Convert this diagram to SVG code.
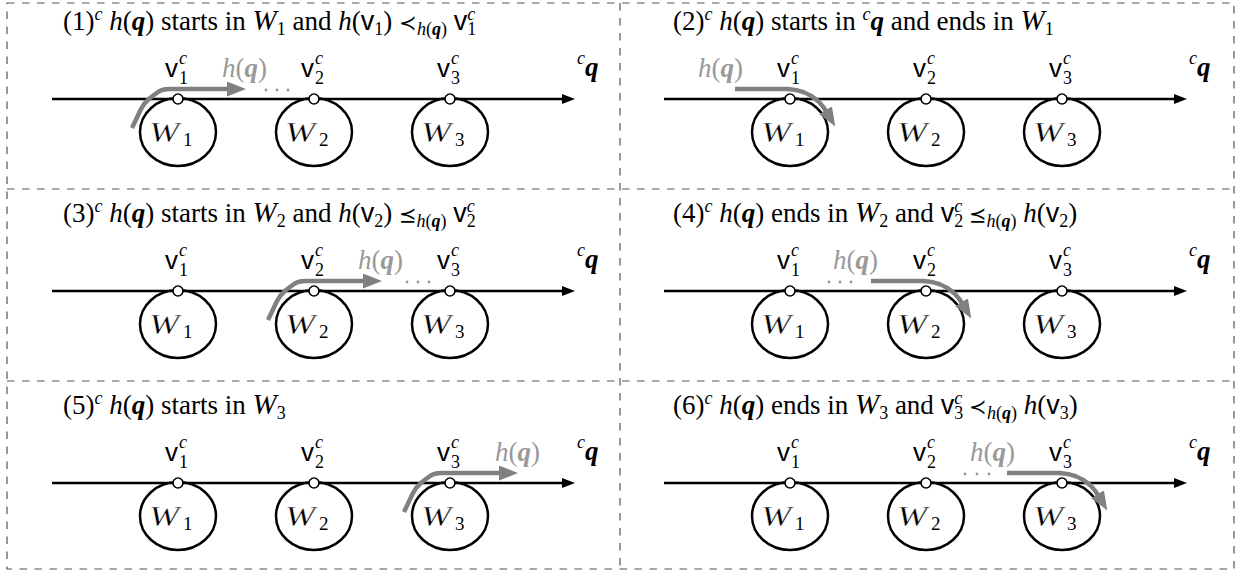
<svg xmlns="http://www.w3.org/2000/svg" width="1241" height="577" viewBox="0 0 1241 577">
<style>
.bg{fill:#fff}
.frame{fill:none;stroke:#555;stroke-width:1.2;stroke-dasharray:7.5 7.5}
.t{font-family:"Liberation Serif","Times New Roman",serif;font-size:27px;fill:#000}
.i{font-style:italic}
.bi{font-style:italic;font-weight:bold}
.sf{font-family:"Liberation Sans",sans-serif;font-style:normal;font-weight:normal}
.sub{font-size:18px}
.sup{font-size:18px;font-style:italic}
.cal{font-style:italic;font-size:29px}
.rel{font-family:"DejaVu Serif",serif;font-size:21px}
.rel2{font-family:"DejaVu Sans",sans-serif;font-size:21px}
.gl{fill:#999}
.dot3{fill:#999}
.region{fill:none;stroke:#000;stroke-width:2.5}
.node{fill:#fff;stroke:#000;stroke-width:1.6}
.axis{fill:none;stroke:#000;stroke-width:2.5;marker-end:url(#ah)}
.hq{fill:none;stroke:#808080;stroke-width:4.5;stroke-linejoin:round;marker-end:url(#gh)}
.vl{font-family:"Liberation Sans",sans-serif;font-size:26px}
.vs{font-family:"Liberation Serif",serif;font-size:18px}
.vc{font-family:"Liberation Serif",serif;font-size:18px;font-style:italic}
.calw{font-family:"Liberation Serif",serif;font-size:29px;font-style:italic;fill:#000;stroke:#fff;stroke-width:0.35}
.wsub{font-family:"Liberation Serif",serif;font-size:19px}
</style>
<defs>
<marker id="ah" markerUnits="userSpaceOnUse" markerWidth="13" markerHeight="10" refX="0" refY="5" orient="auto"><path d="M0,0 L13,5 L0,10 z" fill="#000"/></marker>
<marker id="gh" markerUnits="userSpaceOnUse" markerWidth="19" markerHeight="15" refX="1" refY="7.5" orient="auto"><path d="M0,0 L19,7.5 L0,15 z" fill="#808080"/></marker>
</defs>
<rect class="bg" x="0" y="0" width="1241" height="577"/>
<g id="frames">
<rect class="frame" x="7" y="3" width="1227" height="566"/>
<line class="frame" x1="620" y1="3" x2="620" y2="569"/>
<line class="frame" x1="7" y1="189" x2="1234" y2="189"/>
<line class="frame" x1="7" y1="381" x2="1234" y2="381"/>
</g>

<!-- Panel 1 -->
<g id="panel1">
<text class="t" x="63" y="30">(1)<tspan class="sup" dy="-10">c</tspan><tspan dy="10"> </tspan><tspan class="i">h</tspan>(<tspan class="bi">q</tspan>) starts in <tspan class="cal">W</tspan><tspan class="sub" dy="5">1</tspan><tspan dy="-5"> and </tspan><tspan class="i">h</tspan>(<tspan class="sf">v</tspan><tspan class="sub" dy="5">1</tspan><tspan dy="-5">) </tspan><tspan class="rel">≺</tspan><tspan class="sub" dy="5"><tspan class="i">h</tspan>(<tspan class="bi">q</tspan>)</tspan><tspan dy="-5"> </tspan><tspan class="sf">v</tspan><tspan class="sub" dy="5">1</tspan><tspan class="sup" dx="-9" dy="-15">c</tspan></text>
<g id="p1-n1"><ellipse class="region" cx="178" cy="132" rx="38" ry="34"/><circle class="node" cx="178" cy="99" r="5"/><text class="calw" transform="translate(149,142) scale(1.25,1)">W</text><text class="wsub" x="183" y="146">1</text><text class="vl" x="165" y="77">v</text><text class="vs" x="179" y="84">1</text><text class="vc" x="179" y="64">c</text></g>
<g id="p1-n2"><ellipse class="region" cx="314" cy="132" rx="38" ry="34"/><circle class="node" cx="314" cy="99" r="5"/><text class="calw" transform="translate(285,142) scale(1.25,1)">W</text><text class="wsub" x="319" y="146">2</text><text class="vl" x="301" y="77">v</text><text class="vs" x="315" y="84">2</text><text class="vc" x="315" y="64">c</text></g>
<g id="p1-n3"><ellipse class="region" cx="450" cy="132" rx="38" ry="34"/><circle class="node" cx="450" cy="99" r="5"/><text class="calw" transform="translate(421,142) scale(1.25,1)">W</text><text class="wsub" x="455" y="146">3</text><text class="vl" x="437" y="77">v</text><text class="vs" x="451" y="84">3</text><text class="vc" x="451" y="64">c</text></g>
<text class="t" x="577" y="76"><tspan class="sup" dy="-12">c</tspan><tspan class="bi" dy="12">q</tspan></text>
<g id="p1-connectors">
<path class="axis" d="M52,99 H173 M183,99 H309 M319,99 H445 M455,99 H562"/>
<path class="hq" d="M132,128 L141,109 Q144,103 150,98 L158,92 Q162,89 170,89 L228,89"/>
<text class="t gl" x="222" y="77"><tspan class="i">h</tspan>(<tspan class="bi">q</tspan>)</text>
<circle class="dot3" cx="266" cy="90" r="1.4"/><circle class="dot3" cx="277" cy="90" r="1.4"/><circle class="dot3" cx="288" cy="90" r="1.4"/>
</g>
</g>

<!-- Panel 2 -->
<g id="panel2" transform="translate(612,0)">
<text class="t" x="61" y="30">(2)<tspan class="sup" dy="-10">c</tspan><tspan dy="10"> </tspan><tspan class="i">h</tspan>(<tspan class="bi">q</tspan>) starts in <tspan class="sup" dy="-10">c</tspan><tspan class="bi" dy="10">q</tspan> and ends in <tspan class="cal">W</tspan><tspan class="sub" dy="5">1</tspan></text>
<g id="p2-n1"><ellipse class="region" cx="178" cy="132" rx="38" ry="34"/><circle class="node" cx="178" cy="99" r="5"/><text class="calw" transform="translate(149,142) scale(1.25,1)">W</text><text class="wsub" x="183" y="146">1</text><text class="vl" x="165" y="77">v</text><text class="vs" x="179" y="84">1</text><text class="vc" x="179" y="64">c</text></g>
<g id="p2-n2"><ellipse class="region" cx="314" cy="132" rx="38" ry="34"/><circle class="node" cx="314" cy="99" r="5"/><text class="calw" transform="translate(285,142) scale(1.25,1)">W</text><text class="wsub" x="319" y="146">2</text><text class="vl" x="301" y="77">v</text><text class="vs" x="315" y="84">2</text><text class="vc" x="315" y="64">c</text></g>
<g id="p2-n3"><ellipse class="region" cx="450" cy="132" rx="38" ry="34"/><circle class="node" cx="450" cy="99" r="5"/><text class="calw" transform="translate(421,142) scale(1.25,1)">W</text><text class="wsub" x="455" y="146">3</text><text class="vl" x="437" y="77">v</text><text class="vs" x="451" y="84">3</text><text class="vc" x="451" y="64">c</text></g>
<text class="t" x="577" y="76"><tspan class="sup" dy="-12">c</tspan><tspan class="bi" dy="12">q</tspan></text>
<g id="p2-connectors">
<path class="axis" d="M52,99 H173 M183,99 H309 M319,99 H445 M455,99 H562"/>
<path class="hq" d="M123,89 L176,89 Q194,90 206,101 Q211,106 214,111"/>
<text class="t gl" x="86" y="77"><tspan class="i">h</tspan>(<tspan class="bi">q</tspan>)</text>
</g>
</g>

<!-- Panel 3 -->
<g id="panel3" transform="translate(0,192)">
<text class="t" x="63" y="30">(3)<tspan class="sup" dy="-10">c</tspan><tspan dy="10"> </tspan><tspan class="i">h</tspan>(<tspan class="bi">q</tspan>) starts in <tspan class="cal">W</tspan><tspan class="sub" dy="5">2</tspan><tspan dy="-5"> and </tspan><tspan class="i">h</tspan>(<tspan class="sf">v</tspan><tspan class="sub" dy="5">2</tspan><tspan dy="-5">) </tspan><tspan class="rel2">⪯</tspan><tspan class="sub" dy="5"><tspan class="i">h</tspan>(<tspan class="bi">q</tspan>)</tspan><tspan dy="-5"> </tspan><tspan class="sf">v</tspan><tspan class="sub" dy="5">2</tspan><tspan class="sup" dx="-9" dy="-15">c</tspan></text>
<g id="p3-n1"><ellipse class="region" cx="178" cy="132" rx="38" ry="34"/><circle class="node" cx="178" cy="99" r="5"/><text class="calw" transform="translate(149,142) scale(1.25,1)">W</text><text class="wsub" x="183" y="146">1</text><text class="vl" x="165" y="77">v</text><text class="vs" x="179" y="84">1</text><text class="vc" x="179" y="64">c</text></g>
<g id="p3-n2"><ellipse class="region" cx="314" cy="132" rx="38" ry="34"/><circle class="node" cx="314" cy="99" r="5"/><text class="calw" transform="translate(285,142) scale(1.25,1)">W</text><text class="wsub" x="319" y="146">2</text><text class="vl" x="301" y="77">v</text><text class="vs" x="315" y="84">2</text><text class="vc" x="315" y="64">c</text></g>
<g id="p3-n3"><ellipse class="region" cx="450" cy="132" rx="38" ry="34"/><circle class="node" cx="450" cy="99" r="5"/><text class="calw" transform="translate(421,142) scale(1.25,1)">W</text><text class="wsub" x="455" y="146">3</text><text class="vl" x="437" y="77">v</text><text class="vs" x="451" y="84">3</text><text class="vc" x="451" y="64">c</text></g>
<text class="t" x="577" y="76"><tspan class="sup" dy="-12">c</tspan><tspan class="bi" dy="12">q</tspan></text>
<g id="p3-connectors">
<path class="axis" d="M52,99 H173 M183,99 H309 M319,99 H445 M455,99 H562"/>
<path class="hq" d="M268,128 L277,109 Q280,103 286,98 L294,92 Q298,89 306,89 L364,89"/>
<text class="t gl" x="358" y="77"><tspan class="i">h</tspan>(<tspan class="bi">q</tspan>)</text>
<circle class="dot3" cx="407" cy="90" r="1.4"/><circle class="dot3" cx="418" cy="90" r="1.4"/><circle class="dot3" cx="429" cy="90" r="1.4"/>
</g>
</g>

<!-- Panel 4 -->
<g id="panel4" transform="translate(612,192)">
<text class="t" x="61" y="30">(4)<tspan class="sup" dy="-10">c</tspan><tspan dy="10"> </tspan><tspan class="i">h</tspan>(<tspan class="bi">q</tspan>) ends in <tspan class="cal">W</tspan><tspan class="sub" dy="5">2</tspan><tspan dy="-5"> and </tspan><tspan class="sf">v</tspan><tspan class="sub" dy="5">2</tspan><tspan class="sup" dx="-9" dy="-15">c</tspan><tspan dy="10"> </tspan><tspan class="rel2">⪯</tspan><tspan class="sub" dy="5"><tspan class="i">h</tspan>(<tspan class="bi">q</tspan>)</tspan><tspan dy="-5"> </tspan><tspan class="i">h</tspan>(<tspan class="sf">v</tspan><tspan class="sub" dy="5">2</tspan><tspan dy="-5">)</tspan></text>
<g id="p4-n1"><ellipse class="region" cx="178" cy="132" rx="38" ry="34"/><circle class="node" cx="178" cy="99" r="5"/><text class="calw" transform="translate(149,142) scale(1.25,1)">W</text><text class="wsub" x="183" y="146">1</text><text class="vl" x="165" y="77">v</text><text class="vs" x="179" y="84">1</text><text class="vc" x="179" y="64">c</text></g>
<g id="p4-n2"><ellipse class="region" cx="314" cy="132" rx="38" ry="34"/><circle class="node" cx="314" cy="99" r="5"/><text class="calw" transform="translate(285,142) scale(1.25,1)">W</text><text class="wsub" x="319" y="146">2</text><text class="vl" x="301" y="77">v</text><text class="vs" x="315" y="84">2</text><text class="vc" x="315" y="64">c</text></g>
<g id="p4-n3"><ellipse class="region" cx="450" cy="132" rx="38" ry="34"/><circle class="node" cx="450" cy="99" r="5"/><text class="calw" transform="translate(421,142) scale(1.25,1)">W</text><text class="wsub" x="455" y="146">3</text><text class="vl" x="437" y="77">v</text><text class="vs" x="451" y="84">3</text><text class="vc" x="451" y="64">c</text></g>
<text class="t" x="577" y="76"><tspan class="sup" dy="-12">c</tspan><tspan class="bi" dy="12">q</tspan></text>
<g id="p4-connectors">
<path class="axis" d="M52,99 H173 M183,99 H309 M319,99 H445 M455,99 H562"/>
<path class="hq" d="M259,89 L312,89 Q330,90 342,101 Q347,106 350,111"/>
<text class="t gl" x="221" y="77"><tspan class="i">h</tspan>(<tspan class="bi">q</tspan>)</text>
<circle class="dot3" cx="217" cy="90" r="1.4"/><circle class="dot3" cx="228" cy="90" r="1.4"/><circle class="dot3" cx="239" cy="90" r="1.4"/>
</g>
</g>

<!-- Panel 5 -->
<g id="panel5" transform="translate(0,384)">
<text class="t" x="63" y="30">(5)<tspan class="sup" dy="-10">c</tspan><tspan dy="10"> </tspan><tspan class="i">h</tspan>(<tspan class="bi">q</tspan>) starts in <tspan class="cal">W</tspan><tspan class="sub" dy="5">3</tspan></text>
<g id="p5-n1"><ellipse class="region" cx="178" cy="132" rx="38" ry="34"/><circle class="node" cx="178" cy="99" r="5"/><text class="calw" transform="translate(149,142) scale(1.25,1)">W</text><text class="wsub" x="183" y="146">1</text><text class="vl" x="165" y="77">v</text><text class="vs" x="179" y="84">1</text><text class="vc" x="179" y="64">c</text></g>
<g id="p5-n2"><ellipse class="region" cx="314" cy="132" rx="38" ry="34"/><circle class="node" cx="314" cy="99" r="5"/><text class="calw" transform="translate(285,142) scale(1.25,1)">W</text><text class="wsub" x="319" y="146">2</text><text class="vl" x="301" y="77">v</text><text class="vs" x="315" y="84">2</text><text class="vc" x="315" y="64">c</text></g>
<g id="p5-n3"><ellipse class="region" cx="450" cy="132" rx="38" ry="34"/><circle class="node" cx="450" cy="99" r="5"/><text class="calw" transform="translate(421,142) scale(1.25,1)">W</text><text class="wsub" x="455" y="146">3</text><text class="vl" x="437" y="77">v</text><text class="vs" x="451" y="84">3</text><text class="vc" x="451" y="64">c</text></g>
<text class="t" x="577" y="76"><tspan class="sup" dy="-12">c</tspan><tspan class="bi" dy="12">q</tspan></text>
<g id="p5-connectors">
<path class="axis" d="M52,99 H173 M183,99 H309 M319,99 H445 M455,99 H562"/>
<path class="hq" d="M404,128 L413,109 Q416,103 422,98 L430,92 Q434,89 442,89 L500,89"/>
<text class="t gl" x="495" y="77"><tspan class="i">h</tspan>(<tspan class="bi">q</tspan>)</text>
</g>
</g>

<!-- Panel 6 -->
<g id="panel6" transform="translate(612,384)">
<text class="t" x="61" y="30">(6)<tspan class="sup" dy="-10">c</tspan><tspan dy="10"> </tspan><tspan class="i">h</tspan>(<tspan class="bi">q</tspan>) ends in <tspan class="cal">W</tspan><tspan class="sub" dy="5">3</tspan><tspan dy="-5"> and </tspan><tspan class="sf">v</tspan><tspan class="sub" dy="5">3</tspan><tspan class="sup" dx="-9" dy="-15">c</tspan><tspan dy="10"> </tspan><tspan class="rel">≺</tspan><tspan class="sub" dy="5"><tspan class="i">h</tspan>(<tspan class="bi">q</tspan>)</tspan><tspan dy="-5"> </tspan><tspan class="i">h</tspan>(<tspan class="sf">v</tspan><tspan class="sub" dy="5">3</tspan><tspan dy="-5">)</tspan></text>
<g id="p6-n1"><ellipse class="region" cx="178" cy="132" rx="38" ry="34"/><circle class="node" cx="178" cy="99" r="5"/><text class="calw" transform="translate(149,142) scale(1.25,1)">W</text><text class="wsub" x="183" y="146">1</text><text class="vl" x="165" y="77">v</text><text class="vs" x="179" y="84">1</text><text class="vc" x="179" y="64">c</text></g>
<g id="p6-n2"><ellipse class="region" cx="314" cy="132" rx="38" ry="34"/><circle class="node" cx="314" cy="99" r="5"/><text class="calw" transform="translate(285,142) scale(1.25,1)">W</text><text class="wsub" x="319" y="146">2</text><text class="vl" x="301" y="77">v</text><text class="vs" x="315" y="84">2</text><text class="vc" x="315" y="64">c</text></g>
<g id="p6-n3"><ellipse class="region" cx="450" cy="132" rx="38" ry="34"/><circle class="node" cx="450" cy="99" r="5"/><text class="calw" transform="translate(421,142) scale(1.25,1)">W</text><text class="wsub" x="455" y="146">3</text><text class="vl" x="437" y="77">v</text><text class="vs" x="451" y="84">3</text><text class="vc" x="451" y="64">c</text></g>
<text class="t" x="577" y="76"><tspan class="sup" dy="-12">c</tspan><tspan class="bi" dy="12">q</tspan></text>
<g id="p6-connectors">
<path class="axis" d="M52,99 H173 M183,99 H309 M319,99 H445 M455,99 H562"/>
<path class="hq" d="M395,89 L448,89 Q466,90 478,101 Q483,106 486,111"/>
<text class="t gl" x="358" y="77"><tspan class="i">h</tspan>(<tspan class="bi">q</tspan>)</text>
<circle class="dot3" cx="353" cy="90" r="1.4"/><circle class="dot3" cx="365" cy="90" r="1.4"/><circle class="dot3" cx="377" cy="90" r="1.4"/>
</g>
</g>
</svg>
